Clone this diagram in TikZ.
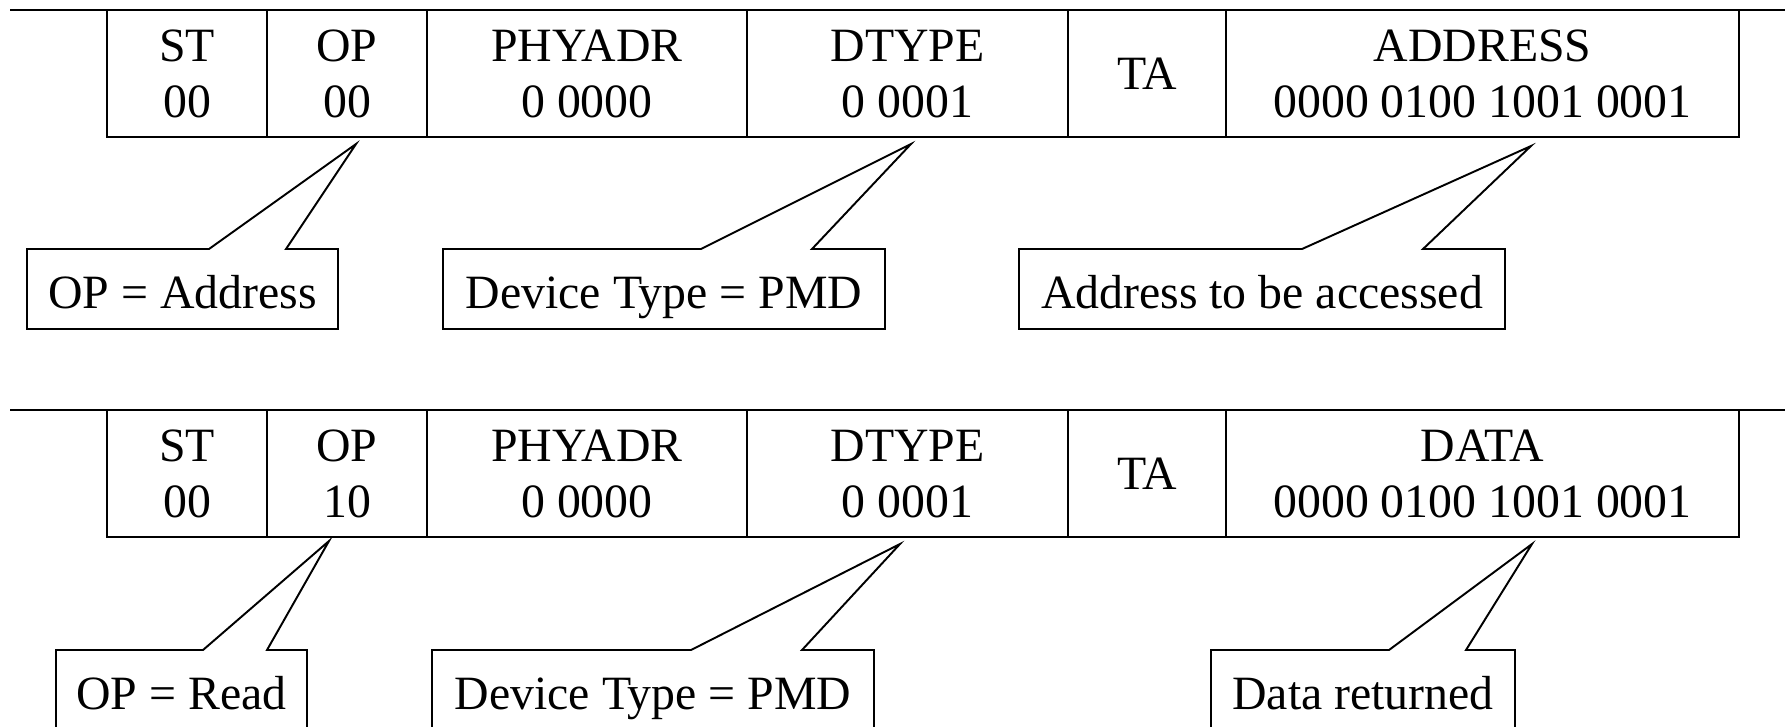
\documentclass[tikz,border=0pt]{standalone}
\usepackage{fontspec}
\setmainfont{Liberation Serif}
\usetikzlibrary{positioning}
\usetikzlibrary{calc}

\tikzset{
  field/.style={draw, line width=0.55pt, inner sep=0pt, outer sep=0pt,
    minimum height=12.7mm, text depth=-2.6pt,
    align=center, anchor=north west},
  note/.style={inner sep=0pt, outer sep=0pt, minimum height=8mm,
    text height=3.9mm, text depth=0pt, anchor=north west},
  bus/.style={line width=0.8pt},
  balloon/.style={line width=0.55pt, line join=miter}
}

\begin{document}
\begin{tikzpicture}[x=0.1mm, y=-0.1mm, font=\fontsize{13.6}{15.9}\selectfont]
  \path[use as bounding box] (0,0) rectangle (1785,726);

  % address frame
  \draw[bus] (10,10) -- (1785,10);
  \node[field, minimum width=16mm] (stA) at (107,10) {ST\\00};
  \node[field, minimum width=16mm, right=0pt of stA] (opA) {OP\\00};
  \node[field, minimum width=32mm, right=0pt of opA] (phyA) {PHYADR\\0 0000};
  \node[field, minimum width=32.1mm, right=0pt of phyA] (dtA) {DTYPE\\0 0001};
  \node[field, minimum width=15.8mm, right=0pt of dtA] (taA) {TA};
  \node[field, minimum width=51.3mm, right=0pt of taA] (adrA) {ADDRESS\\0000 0100 1001 0001};

  \coordinate (tipA1) at ($(opA.south)+(9,7)$);
  \coordinate (tipA2) at ($(dtA.south)+(3.5,7)$);
  \coordinate (tipA3) at ($(adrA.south)+(48.5,9)$);

  \node[note, minimum width=31.1mm] (noteA1) at (27,249) {OP = Address};
  \node[note, minimum width=44.2mm] (noteA2) at (443,249) {Device Type = PMD};
  \node[note, minimum width=48.6mm] (noteA3) at (1019,249) {Address to be accessed};

  \draw[balloon] (noteA1.north west) -- ($(noteA1.north west)+(182,0)$) -- (tipA1)
    -- ($(noteA1.north west)+(259,0)$) -- (noteA1.north east) -- (noteA1.south east)
    -- (noteA1.south west) -- cycle;
  \draw[balloon] (noteA2.north west) -- ($(noteA2.north west)+(258,0)$) -- (tipA2)
    -- ($(noteA2.north west)+(369,0)$) -- (noteA2.north east) -- (noteA2.south east)
    -- (noteA2.south west) -- cycle;
  \draw[balloon] (noteA3.north west) -- ($(noteA3.north west)+(283,0)$) -- (tipA3)
    -- ($(noteA3.north west)+(404,0)$) -- (noteA3.north east) -- (noteA3.south east)
    -- (noteA3.south west) -- cycle;

  % read frame
  \draw[bus] (10,410) -- (1785,410);
  \node[field, minimum width=16mm] (stB) at (107,410) {ST\\00};
  \node[field, minimum width=16mm, right=0pt of stB] (opB) {OP\\10};
  \node[field, minimum width=32mm, right=0pt of opB] (phyB) {PHYADR\\0 0000};
  \node[field, minimum width=32.1mm, right=0pt of phyB] (dtB) {DTYPE\\0 0001};
  \node[field, minimum width=15.8mm, right=0pt of dtB] (taB) {TA};
  \node[field, minimum width=51.3mm, right=0pt of taB] (datB) {DATA\\0000 0100 1001 0001};

  \coordinate (tipB1) at ($(opB.south)+(-18,4)$);
  \coordinate (tipB2) at ($(dtB.south)+(-7.5,7)$);
  \coordinate (tipB3) at ($(datB.south)+(49.5,7)$);

  \node[note, minimum width=25.1mm] (noteB1) at (56,650) {OP = Read};
  \node[note, minimum width=44.2mm] (noteB2) at (432,650) {Device Type = PMD};
  \node[note, minimum width=30.4mm] (noteB3) at (1211,650) {Data returned};

  \draw[balloon] (noteB1.north west) -- ($(noteB1.north west)+(147,0)$) -- (tipB1)
    -- ($(noteB1.north west)+(211,0)$) -- (noteB1.north east) -- (noteB1.south east)
    -- (noteB1.south west) -- cycle;
  \draw[balloon] (noteB2.north west) -- ($(noteB2.north west)+(259,0)$) -- (tipB2)
    -- ($(noteB2.north west)+(370,0)$) -- (noteB2.north east) -- (noteB2.south east)
    -- (noteB2.south west) -- cycle;
  \draw[balloon] (noteB3.north west) -- ($(noteB3.north west)+(178,0)$) -- (tipB3)
    -- ($(noteB3.north west)+(255,0)$) -- (noteB3.north east) -- (noteB3.south east)
    -- (noteB3.south west) -- cycle;
\end{tikzpicture}
\end{document}
